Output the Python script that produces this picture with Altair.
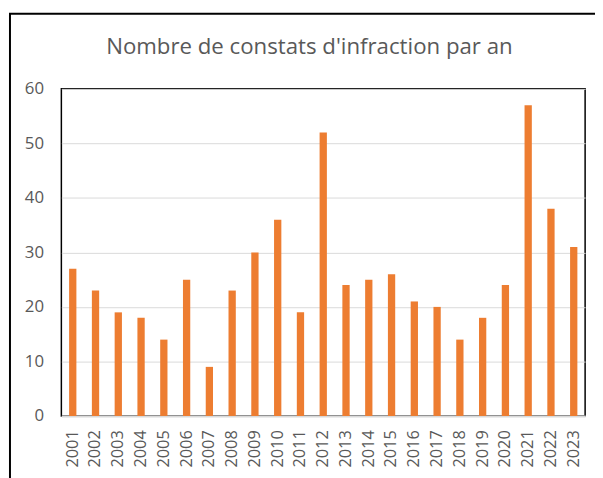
import altair as alt
import pandas as pd

years = [str(y) for y in range(2001, 2024)]
counts = [27, 23, 19, 18, 14, 25, 9, 23, 30, 36, 19, 52, 24, 25, 26, 21, 20, 14, 18, 24, 57, 38, 31]
title_text = "Nombre de constats d'infraction par an"

df = pd.DataFrame({"annee": years, "constats": counts})

FONT = "Open Sans"
GREY = "#595959"

bars = alt.Chart(df).mark_bar(color="#ED7D31").encode(
    x=alt.X("annee:N", sort=years, title=None,
            scale=alt.Scale(paddingInner=0.68, paddingOuter=0.34),
            axis=alt.Axis(labelAngle=-90, labelFontSize=16.5, labelColor=GREY, labelFont=FONT,
                          ticks=False, domainColor="#D9D9D9", domainWidth=2,
                          labelPadding=14, labelBaseline="middle", labelAlign="right")),
    y=alt.Y("constats:Q", title=None,
            scale=alt.Scale(domain=[0, 60]),
            axis=alt.Axis(values=[0, 10, 20, 30, 40, 50, 60], labelFontSize=17, labelColor=GREY,
                          labelFont=FONT, ticks=False, domain=False, gridColor="#D9D9D9",
                          gridWidth=1, labelPadding=18)),
)

base1 = alt.Chart(pd.DataFrame({"a": [0]}))

frame = base1.mark_rect(
    fill=None, stroke="black", strokeWidth=2, clip=False
).encode(
    x=alt.value(-52), x2=alt.value(700), y=alt.value(-76), y2=alt.value(600)
)

title = base1.mark_text(
    font=FONT, fontSize=22.5, color=GREY, align="center", baseline="alphabetic"
).encode(
    x=alt.value(251), y=alt.value(-35), text=alt.value(title_text)
)

chart = alt.layer(frame, title, bars).properties(
    width=530, height=331,
    autosize=alt.AutoSizeParams(type="none"),
    padding={"left": 54, "top": 79, "right": 10, "bottom": 60},
).configure_view(stroke="black", strokeWidth=1.5)

chart.save("out.html", embed_options={"renderer": "svg", "actions": False})
